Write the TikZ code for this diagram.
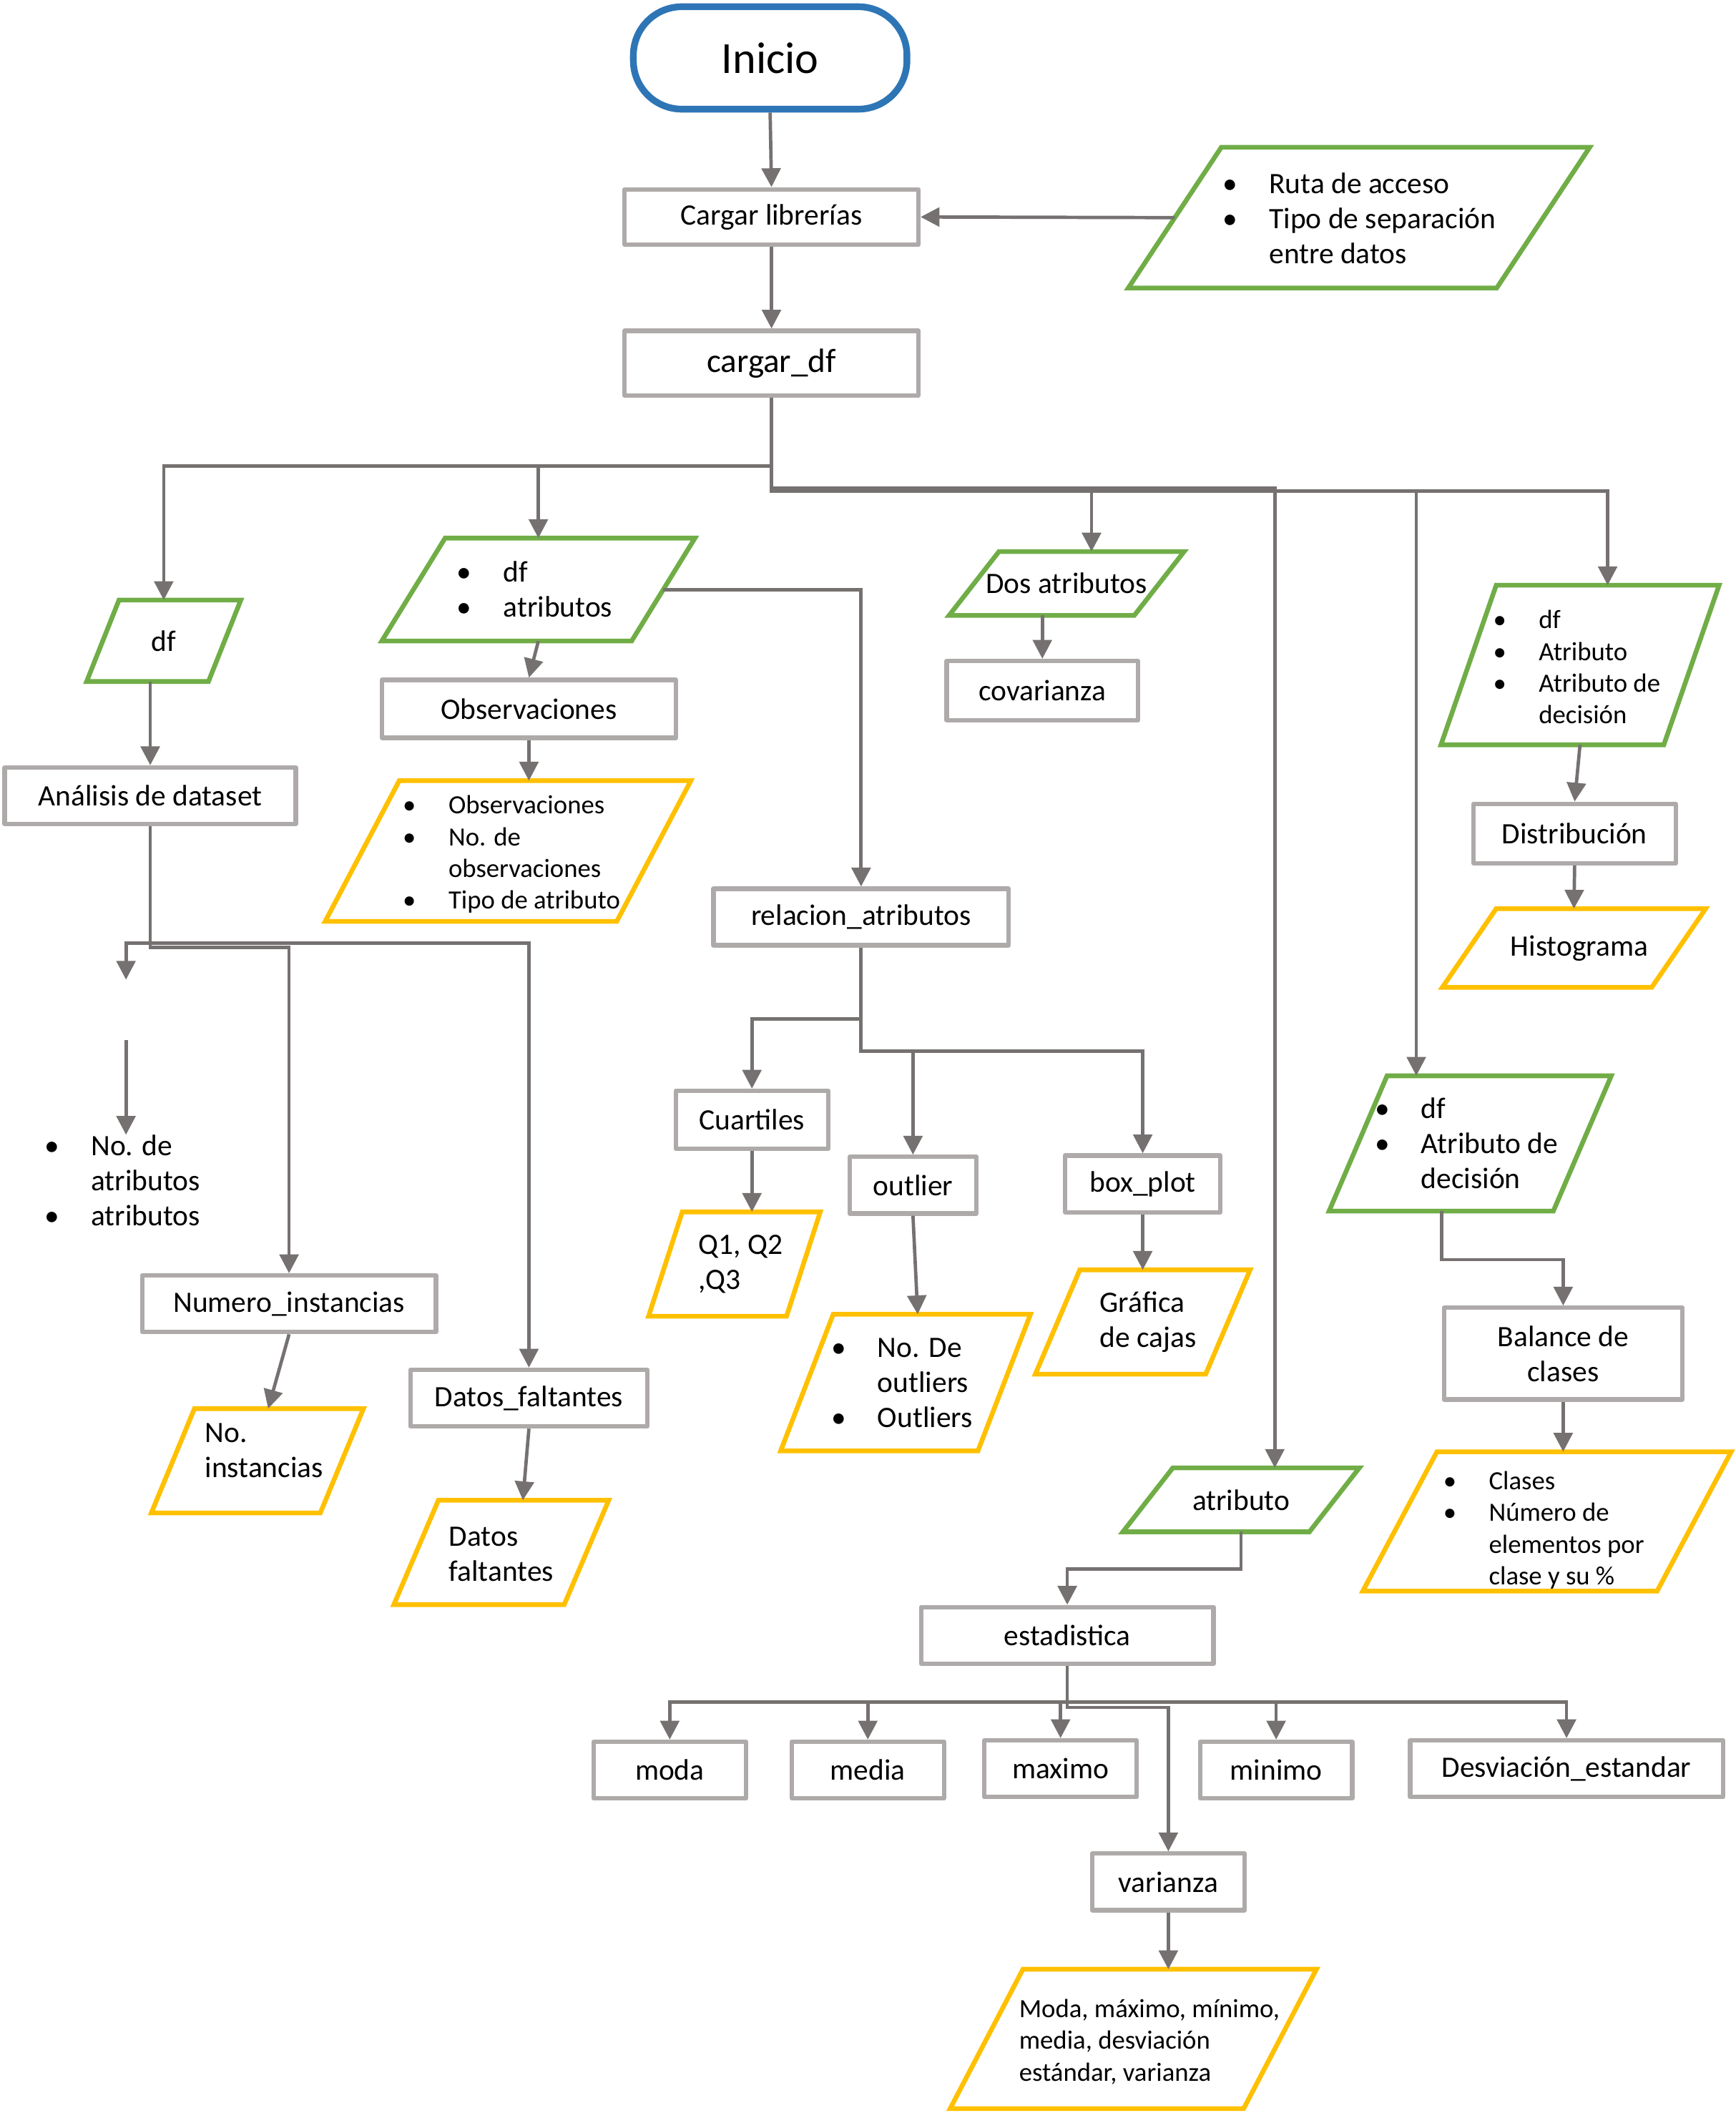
\documentclass[tikz,border=0pt]{standalone}
\usepackage{fontspec}
\setmainfont{Carlito}
\usepackage{xcolor}
\usetikzlibrary{positioning,calc,arrows.meta}

\definecolor{grisborde}{HTML}{AEAAAA}
\definecolor{grislinea}{HTML}{767171}
\definecolor{verde}{HTML}{70AD47}
\definecolor{amarillo}{HTML}{FFC000}
\definecolor{azul}{HTML}{2E75B6}

\newcommand{\txtnormal}{\fontsize{22}{26}\selectfont}
\newcommand{\txtchica}{\fontsize{19.5}{23.5}\selectfont}
\newcommand{\vineta}{\makebox[0pt][c]{•}\hspace*{29pt}}
\newcommand{\sangria}{\hspace*{29pt}}
% lowers a left-aligned block inside its shape
\newcommand{\bajar}[2]{\raisebox{-#1pt}[\height][\depth]{\begin{tabular}{@{}l@{}}#2\end{tabular}}}
\newcommand{\paral}[3]{%
  \draw[#3, line width=3.5pt]
    ($(#1.north west)+(#2/2,0)$) -- ($(#1.north east)+(#2/2,0)$) --
    ($(#1.south east)-(#2/2,0)$) -- ($(#1.south west)-(#2/2,0)$) -- cycle;}

\begin{document}
\begin{tikzpicture}[
    x=1pt, y=-1pt,
    every node/.style={font=\txtnormal},
    caja/.style={draw=grisborde, line width=3.3pt, line join=round, inner sep=0pt, align=center},
    para/.style={inner sep=0pt, align=left},
    flecha/.style={draw=grislinea, line width=2.5pt, -{Triangle[length=14pt,width=14pt]}}
]
\useasboundingbox (0,0) rectangle (1288,1568);

% Start and loading
\node[draw=azul, line width=5pt, rounded corners=36pt, minimum width=203pt, minimum height=76pt, inner sep=0pt, font=\fontsize{33}{38}\selectfont] (inicio) at (571.5,43) {Inicio};
\node[caja, minimum width=218pt, minimum height=41pt] (cargar) at (572.5,161) {Cargar librerías};
\node[caja, minimum width=218pt, minimum height=48pt, font=\fontsize{25}{30}\selectfont] (cargardf) at (572.5,269.5) {cargar\_df};
\node[para, minimum width=273pt, minimum height=104pt] (entrada) at (1008.5,161.5) {\bajar{3}{\hspace*{6pt}\vineta Ruta de acceso\\ \hspace*{6pt}\vineta Tipo de separación\\ \hspace*{6pt}\sangria entre datos}};

% Dataset analysis
\node[para, minimum width=90pt, minimum height=60pt] (pdf) at (121.5,475.5) {df};
\node[caja, minimum width=216pt, minimum height=42pt] (analisis) at (111.5,590.5) {Análisis de dataset};
\node[para] (attrs) at (93.5,876) {\vineta No. de\\ \sangria atributos\\ \vineta atributos};
\node[caja, minimum width=218pt, minimum height=42pt] (numinst) at (214.5,967.5) {Numero\_instancias};
\node[para, minimum width=125pt, minimum height=77pt] (noinst) at (191,1084) {\bajar{-6}{\hspace*{10pt}No.\\ \hspace*{10pt}instancias}};
\node[caja, minimum width=176pt, minimum height=42pt] (faltantes) at (392.5,1037.5) {Datos\_faltantes};
\node[para, minimum width=126pt, minimum height=77pt] (dfalt) at (372,1152) {\bajar{3}{Datos\\ faltantes}};

% Observations
\node[para, minimum width=185pt, minimum height=76pt] (pdfattr) at (399.5,437.5) {\vineta df\\ \vineta atributos};
\node[caja, minimum width=218pt, minimum height=43pt] (observ) at (392.5,526) {Observaciones};
\node[para, minimum width=216pt, minimum height=104pt, font=\txtchica] (obsout) at (377,631.5) {\bajar{3}{\hspace*{10pt}\vineta Observaciones\\ \hspace*{10pt}\vineta No. de\\ \hspace*{10pt}\sangria observaciones\\ \hspace*{10pt}\vineta Tipo de atributo}};

% Attribute relations
\node[caja, minimum width=219pt, minimum height=42pt] (relacion) at (639,680.5) {relacion\_atributos};
\node[caja, minimum width=113pt, minimum height=43pt] (cuart) at (558,831) {Cuartiles};
\node[para, minimum width=102pt, minimum height=77pt] (q) at (545,938) {\hspace*{9pt}Q1, Q2\\ \hspace*{9pt},Q3};
\node[caja, minimum width=94pt, minimum height=42pt] (outlier) at (677.5,879.5) {outlier};
\node[para, minimum width=146pt, minimum height=101pt] (outout) at (672,1026) {\vineta No. De\\ \sangria outliers\\ \vineta Outliers};
\node[caja, minimum width=115pt, minimum height=42pt] (boxplot) at (848,878.5) {box\_plot};
\node[para, minimum width=126pt, minimum height=77pt] (grafica) at (848,981) {\hspace*{8pt}Gráfica\\ \hspace*{8pt}de cajas};

% Covariance
\node[para, minimum width=137pt, minimum height=47pt] (dosattr) at (791.5,433) {Dos atributos};
\node[caja, minimum width=142pt, minimum height=44pt] (covarianza) at (773.5,512.5) {covarianza};

% Distribution and class balance
\node[para, minimum width=165pt, minimum height=118pt, font=\txtchica] (pattr3) at (1172.5,493.5) {\bajar{3.5}{\vineta df\\ \vineta Atributo\\ \vineta Atributo de\\ \sangria decisión}};
\node[caja, minimum width=150pt, minimum height=44pt] (distrib) at (1168.5,618.5) {Distribución};
\node[para, minimum width=155pt, minimum height=58pt] (histog) at (1168,703.5) {\hspace*{8pt}Histograma};
\node[para, minimum width=166pt, minimum height=100pt] (pdec) at (1091,848.5) {\vineta df\\ \vineta Atributo de\\ \sangria decisión};
\node[caja, minimum width=177pt, minimum height=68pt] (balance) at (1160,1004.5) {Balance de\\ clases};
\node[para, minimum width=218pt, minimum height=103pt, font=\txtchica] (clases) at (1148,1129) {\bajar{7}{\vineta Clases\\ \vineta Número de\\ \sangria elementos por\\ \sangria clase y su \%}};

% Statistics
\node[para, minimum width=138pt, minimum height=47pt] (atrib) at (921,1113) {atributo};
\node[caja, minimum width=217pt, minimum height=42pt] (estad) at (792,1213.5) {estadistica};
\node[caja, minimum width=113pt, minimum height=42pt] (moda) at (497,1313.5) {moda};
\node[caja, minimum width=113pt, minimum height=42pt] (media) at (644,1313.5) {media};
\node[caja, minimum width=113pt, minimum height=42pt] (maximo) at (787,1312.5) {maximo};
\node[caja, minimum width=113pt, minimum height=42pt] (minimo) at (947,1313.5) {minimo};
\node[caja, minimum width=232pt, minimum height=42pt] (desviacion) at (1162.5,1312.5) {Desviación\_estandar};
\node[caja, minimum width=113pt, minimum height=42pt] (varianza) at (867,1396.5) {varianza};
\node[para, minimum width=217pt, minimum height=103pt, font=\txtchica] (final) at (841,1513) {\bajar{3}{\hspace*{24pt}Moda, máximo, mínimo,\\ \hspace*{24pt}media, desviación\\ \hspace*{24pt}estándar, varianza}};

% Parallelogram outlines
\paral{entrada}{69}{verde}
\paral{pdf}{24}{verde}
\paral{pdfattr}{47}{verde}
\paral{dosattr}{37}{verde}
\paral{pattr3}{41}{verde}
\paral{pdec}{43}{verde}
\paral{atrib}{37}{verde}
\paral{obsout}{55}{amarillo}
\paral{noinst}{32}{amarillo}
\paral{dfalt}{33}{amarillo}
\paral{q}{25}{amarillo}
\paral{outout}{39}{amarillo}
\paral{grafica}{33}{amarillo}
\paral{histog}{40}{amarillo}
\paral{clases}{55}{amarillo}
\paral{final}{54}{amarillo}

% Bus levels and entry points
\coordinate (busizq) at (0,346);
\coordinate (busder1) at (0,362);
\coordinate (busder2) at (0,364.5);
\coordinate (busana1) at (0,700);
\coordinate (busana2) at (0,703);
\coordinate (busrel1) at (0,756);
\coordinate (busrel2) at (0,780);
\coordinate (busest1) at (0,1263);
\coordinate (busest2) at (0,1267);
\coordinate (hueco1) at (93.5,727);
\coordinate (hueco2) at (93.5,772);
\coordinate (dos-in) at ($(dosattr.north)+(18.5,0)$);
\coordinate (atrib-in) at ($(atrib.north)+(25,0)$);
\coordinate (pdec-in) at ($(pdec.north)+(-40,0)$);
\coordinate (pattr3-in) at ($(pattr3.north)+(20.5,0)$);
\coordinate (outout-in) at ($(outout.north)+(9,0)$);
\coordinate (noinst-in) at ($(noinst.north)+(8,0)$);
\coordinate (dfalt-in) at ($(dfalt.north)+(16,0)$);
\coordinate (pdec-out) at ($(pdec.south)+(-21,0)$);

% Main flow
\draw[flecha] (inicio.south) -- (cargar.north);
\draw[flecha] (entrada.west) -- (cargar.east);
\draw[flecha] (cargar.south) -- (cargardf.north);

% Branches of cargar_df
\draw[flecha] (cargardf.south) -- (cargardf.south |- busizq) -| (pdf.north);
\draw[flecha] (cargardf.south) -- (cargardf.south |- busizq) -| (pdfattr.north);
\draw[flecha] (cargardf.south) -- (cargardf.south |- busder1) -| (dos-in);
\draw[flecha] (cargardf.south) -- (cargardf.south |- busder1) -| (atrib-in);
\draw[flecha] (cargardf.south) -- (cargardf.south |- busder2) -| (pdec-in);
\draw[flecha] (cargardf.south) -- (cargardf.south |- busder2) -| (pattr3-in);

% Dataset analysis
\draw[flecha] (pdf.south -| analisis.north) -- (analisis.north);
\draw[flecha] (analisis.south) -- (analisis.south |- busana1) -| (hueco1);
\draw[flecha] (hueco2) -- (attrs.north);
\draw[flecha] (analisis.south) -- (analisis.south |- busana2) -| (numinst.north);
\draw[flecha] (analisis.south) -- (analisis.south |- busana1) -| (faltantes.north);
\draw[flecha] (numinst.south) -- (noinst-in);
\draw[flecha] (faltantes.south) -- (dfalt-in);

% Observations and relations
\draw[flecha] (pdfattr.south) -- (observ.north);
\draw[flecha] (observ.south) -- (observ.south |- obsout.north);
\draw[flecha] (pdfattr.east) -| (relacion.north);
\draw[flecha] (relacion.south) -- (relacion.south |- busrel1) -| (cuart.north);
\draw[flecha] (relacion.south) -- (relacion.south |- busrel2) -| (outlier.north);
\draw[flecha] (relacion.south) -- (relacion.south |- busrel2) -| (boxplot.north);
\draw[flecha] (cuart.south) -- (cuart.south |- q.north);
\draw[flecha] (outlier.south) -- (outout-in);
\draw[flecha] (boxplot.south) -- (grafica.north);

% Covariance, distribution, balance
\draw[flecha] (dosattr.south -| covarianza.north) -- (covarianza.north);
\draw[flecha] (pattr3.south) -- (distrib.north);
\draw[flecha] (distrib.south) -- (histog.north);
\draw[flecha] (pdec-out) -- ++(0,36) -| (balance.north);
\draw[flecha] (balance.south) -- (balance.south |- clases.north);

% Statistics
\draw[flecha] (atrib.south) -- ++(0,27.5) -| (estad.north);
\draw[flecha] (estad.south) -- (estad.south |- busest1) -| (moda.north);
\draw[flecha] (estad.south) -- (estad.south |- busest1) -| (media.north);
\draw[flecha] (estad.south) -- (estad.south |- busest1) -| (maximo.north);
\draw[flecha] (estad.south) -- (estad.south |- busest1) -| (minimo.north);
\draw[flecha] (estad.south) -- (estad.south |- busest1) -| (desviacion.north);
\draw[flecha] (estad.south) -- (estad.south |- busest2) -| (varianza.north);
\draw[flecha] (varianza.south) -- (varianza.south |- final.north);

\end{tikzpicture}
\end{document}
